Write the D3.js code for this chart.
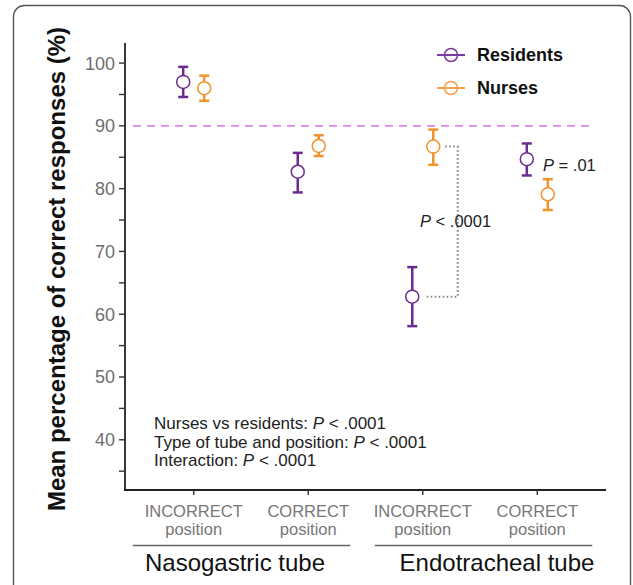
<!DOCTYPE html>
<html><head><meta charset="utf-8">
<script src="https://cdn.jsdelivr.net/npm/d3@7"></script>
<style>body{margin:0;background:#fff;} svg{display:block;font-family:"Liberation Sans",Arial,sans-serif;}</style>
</head><body>
<script>
const categories = ["NG_INCORRECT","NG_CORRECT","ET_INCORRECT","ET_CORRECT"];
const catTop = ["INCORRECT","CORRECT","INCORRECT","CORRECT"];
const catBottom = ["position","position","position","position"];
const groups = ["Nasogastric tube","Endotracheal tube"];
const residentsMean = [97.0, 82.7, 62.8, 84.7];
const residentsLow  = [94.6, 79.4, 58.1, 82.1];
const residentsHigh = [99.4, 85.7, 67.5, 87.2];
const nursesMean = [96.0, 86.8, 86.7, 79.1];
const nursesLow  = [94.0, 85.2, 83.8, 76.6];
const nursesHigh = [98.0, 88.5, 89.4, 81.5];
const yTicks = [40,50,60,70,80,90,100];
const yMinorTicks = [35,45,55,65,75,85,95];
const refLine = 90;
const annotations = [["Nurses vs residents: ","P"," < .0001"],["Type of tube and position: ","P"," < .0001"],["Interaction: ","P"," < .0001"]];

const W=633,H=585;
const svg=d3.select("body").append("svg").attr("width",W).attr("height",H);
svg.append("rect").attr("x",13.5).attr("y",5.5).attr("width",617).attr("height",592).attr("rx",11)
  .attr("fill","#fff").attr("stroke","#555").attr("stroke-width",1.4);

const x=d3.scalePoint().domain(categories).range([125,606]).padding(0.6);
const y=d3.scaleLinear().domain([32,103.2]).range([490,43]);
const dodge=10.5;
const cRes="#6a2c8e", cNur="#f0932b";

// axes
svg.append("line").attr("x1",125).attr("x2",125).attr("y1",y(103.2)).attr("y2",y(32)+0.9).attr("stroke","#222").attr("stroke-width",1.8);
svg.append("line").attr("x1",124.1).attr("x2",606).attr("y1",y(32)).attr("y2",y(32)).attr("stroke","#222").attr("stroke-width",1.8);
svg.selectAll(".yt").data(yTicks.concat(yMinorTicks)).join("line")
  .attr("x1",119).attr("x2",125).attr("y1",d=>y(d)).attr("y2",d=>y(d)).attr("stroke","#333").attr("stroke-width",1.4);
svg.selectAll(".yl").data(yTicks).join("text").attr("x",115).attr("y",d=>y(d)).attr("dy","0.36em")
  .attr("text-anchor","end").attr("font-size",18).attr("fill","#6e6e6e").text(d=>d);
svg.selectAll(".xt").data(categories).join("line")
  .attr("x1",d=>x(d)).attr("x2",d=>x(d)).attr("y1",y(32)).attr("y2",y(32)+5).attr("stroke","#333").attr("stroke-width",1.4);
svg.selectAll(".xl1").data(categories).join("text").attr("x",d=>x(d)).attr("y",517)
  .attr("text-anchor","middle").attr("font-size",16.5).attr("fill","#777").text((d,i)=>catTop[i]);
svg.selectAll(".xl2").data(categories).join("text").attr("x",d=>x(d)).attr("y",535)
  .attr("text-anchor","middle").attr("font-size",16.5).attr("fill","#777").text((d,i)=>catBottom[i]);

// group brackets
const gl=[[x(categories[0])-61,x(categories[1])+42],[x(categories[2])-48,x(categories[3])+55]];
const gc=[235,497];
gl.forEach((g,i)=>{
  svg.append("line").attr("x1",g[0]).attr("x2",g[1]).attr("y1",545.5).attr("y2",545.5).attr("stroke","#666").attr("stroke-width",1.5);
  svg.append("text").attr("x",gc[i]).attr("y",571).attr("text-anchor","middle").attr("font-size",24).attr("fill","#111").text(groups[i]);
});

// y title
svg.append("text").attr("transform","translate(65,269) rotate(-90)").attr("text-anchor","middle")
  .attr("font-size",24).attr("font-weight","bold").attr("fill","#111").text("Mean percentage of correct responses (%)");

// reference line
svg.append("line").attr("x1",133).attr("x2",592).attr("y1",y(refLine)).attr("y2",y(refLine))
  .attr("stroke","#d78be0").attr("stroke-width",1.8).attr("stroke-dasharray","8,6");

// dotted bracket for ET incorrect
const bx=x(categories[2])+35;
svg.append("path").attr("d",`M${x(categories[2])+dodge+12},${y(nursesMean[2])}H${bx}V${y(residentsMean[2])}H${x(categories[2])-dodge+12}`)
  .attr("fill","none").attr("stroke","#888").attr("stroke-width",2).attr("stroke-dasharray","1.6,2.4");
const pl=svg.append("text").attr("x",420).attr("y",227).attr("font-size",16.5).attr("fill","#222");
pl.append("tspan").attr("font-style","italic").text("P");pl.append("tspan").text(" < .0001");
const p2=svg.append("text").attr("x",543).attr("y",171).attr("font-size",16.5).attr("fill","#222");
p2.append("tspan").attr("font-style","italic").text("P");p2.append("tspan").text(" = .01");

// series
function drawSeries(mean,low,high,off,col){
  const gg=svg.append("g");
  categories.forEach((c,i)=>{
    const cx=x(c)+off;
    gg.append("line").attr("x1",cx).attr("x2",cx).attr("y1",y(low[i])).attr("y2",y(mean[i])+6.5).attr("stroke",col).attr("stroke-width",2.5);
    gg.append("line").attr("x1",cx).attr("x2",cx).attr("y1",y(mean[i])-6.5).attr("y2",y(high[i])).attr("stroke",col).attr("stroke-width",2.5);
    gg.append("line").attr("x1",cx-5).attr("x2",cx+5).attr("y1",y(low[i])).attr("y2",y(low[i])).attr("stroke",col).attr("stroke-width",2.5);
    gg.append("line").attr("x1",cx-5).attr("x2",cx+5).attr("y1",y(high[i])).attr("y2",y(high[i])).attr("stroke",col).attr("stroke-width",2.5);
    gg.append("circle").attr("cx",cx).attr("cy",y(mean[i])).attr("r",6.5).attr("fill","none").attr("stroke",col).attr("stroke-width",1.5);
  });
}
drawSeries(residentsMean,residentsLow,residentsHigh,-dodge,cRes);
drawSeries(nursesMean,nursesLow,nursesHigh,dodge,cNur);

// annotations
annotations.forEach((a,i)=>{
  const t=svg.append("text").attr("x",154).attr("y",429+i*18.5).attr("font-size",17).attr("fill","#222");
  t.append("tspan").text(a[0]);t.append("tspan").attr("font-style","italic").text(a[1]);t.append("tspan").text(a[2]);
});

// legend
const legend=[["Residents","#7a3ca0",55],["Nurses","#f5a04a",88]];
legend.forEach(l=>{
  svg.append("line").attr("x1",437).attr("x2",465).attr("y1",l[2]).attr("y2",l[2]).attr("stroke",l[1]).attr("stroke-width",2);
  svg.append("circle").attr("cx",451).attr("cy",l[2]).attr("r",6.5).attr("fill","none").attr("stroke",l[1]).attr("stroke-width",1.5);
  svg.append("text").attr("x",477).attr("y",l[2]).attr("dy","0.35em").attr("font-size",18).attr("font-weight","bold").attr("fill","#111").text(l[0]);
});
</script>
</body></html>
